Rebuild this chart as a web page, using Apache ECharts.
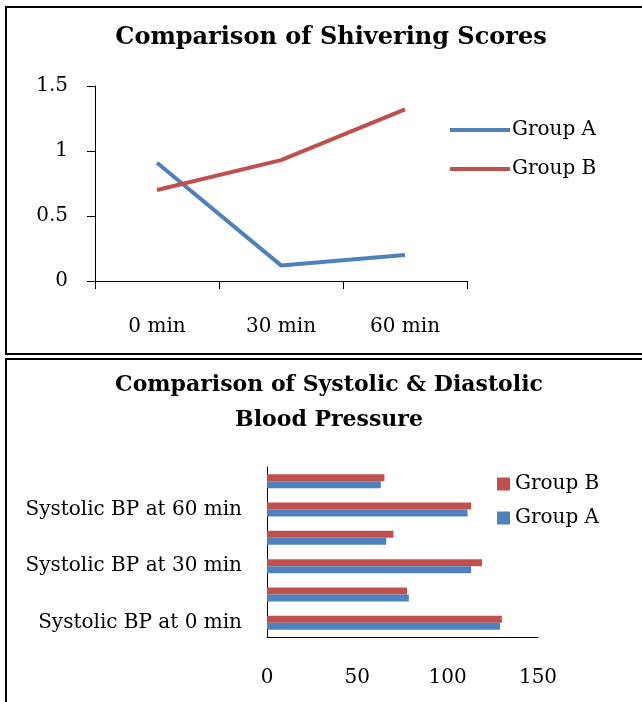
<!DOCTYPE html>
<html>
<head>
<meta charset="utf-8">
<script src="https://cdn.jsdelivr.net/npm/echarts@6/dist/echarts.min.js"></script>
<style>
html,body{margin:0;padding:0;background:#fff;}
#main{width:642px;height:702px;}
</style>
</head>
<body>
<div id="main"></div>
<script>
// Shivering scores (line chart)
var timeCategories = ['0 min', '30 min', '60 min'];
var shiverGroupA = [0.91, 0.12, 0.20];
var shiverGroupB = [0.70, 0.93, 1.32];

// Blood pressure (horizontal bar chart), bottom to top
var bpCategories = [
  'Systolic BP at 0 min', 'Diastolic BP at 0 min',
  'Systolic BP at 30 min', 'Diastolic BP at 30 min',
  'Systolic BP at 60 min', 'Diastolic BP at 60 min'
];
var bpGroupA = [129, 78.5, 113, 66, 111, 63];
var bpGroupB = [130, 77.5, 119, 70, 113, 65];

var FONT = 'DejaVu Serif';
var BLUE = '#4F81BD';
var RED = '#C0504D';

var chart = echarts.init(document.getElementById('main'), null, {renderer: 'canvas'});
chart.setOption({
  backgroundColor: '#fff',
  animation: false,
  textStyle: {fontFamily: FONT, color: '#000'},
  graphic: [
    {type: 'rect', shape: {x: 6, y: 7, width: 650, height: 347}, style: {fill: 'none', stroke: '#000', lineWidth: 2}},
    {type: 'rect', shape: {x: 6, y: 359, width: 650, height: 360}, style: {fill: 'none', stroke: '#000', lineWidth: 2}}
  ],
  title: [
    {text: 'Comparison of Shivering Scores', left: 326, top: 21, textAlign: 'center',
     textStyle: {fontFamily: FONT, fontWeight: 'bold', fontSize: 24, color: '#000'}},
    {text: 'Comparison of Systolic & Diastolic\nBlood Pressure', left: 324, top: 363, textAlign: 'center',
     textStyle: {fontFamily: FONT, fontWeight: 'bold', fontSize: 22, color: '#000', lineHeight: 35}}
  ],
  legend: [
    {data: ['Group A', 'Group B'], orient: 'vertical', left: 445, top: 115,
     icon: 'rect', itemWidth: 60, itemHeight: 4, itemGap: 19,
     textStyle: {fontFamily: FONT, fontSize: 20, color: '#000', padding: [0, 0, 0, -3]}},
    {data: ['Group B', 'Group A'], orient: 'vertical', left: 492, top: 469,
     icon: 'rect', itemWidth: 13, itemHeight: 13, itemGap: 14,
     textStyle: {fontFamily: FONT, fontSize: 20, color: '#000'}}
  ],
  grid: [
    {left: 95, top: 86, width: 372, height: 195},
    {left: 267, top: 467, width: 271, height: 170}
  ],
  xAxis: [
    {type: 'category', gridIndex: 0, data: timeCategories, boundaryGap: true,
     axisLine: {lineStyle: {color: '#000', width: 1}},
     axisTick: {show: true, length: 8, lineStyle: {color: '#000'}},
     axisLabel: {fontFamily: FONT, fontSize: 20, color: '#000', margin: 36}},
    {type: 'value', gridIndex: 1, min: 0, max: 150, interval: 50,
     axisLine: {show: true, lineStyle: {color: '#000', width: 1}},
     axisTick: {show: false}, splitLine: {show: false},
     axisLabel: {fontFamily: FONT, fontSize: 20, color: '#000', margin: 31}}
  ],
  yAxis: [
    {type: 'value', gridIndex: 0, min: 0, max: 1.5, interval: 0.5,
     axisLine: {show: true, lineStyle: {color: '#000', width: 1}},
     axisTick: {show: true, length: 8, lineStyle: {color: '#000'}},
     splitLine: {show: false},
     axisLabel: {fontFamily: FONT, fontSize: 20, color: '#000', margin: 27}},
    {type: 'category', gridIndex: 1, data: bpCategories,
     axisLine: {show: true, lineStyle: {color: '#000', width: 1}},
     axisTick: {show: false},
     axisLabel: {fontFamily: FONT, fontSize: 20, color: '#000', margin: 25, interval: 1}}
  ],
  series: [
    {name: 'Group A', type: 'line', xAxisIndex: 0, yAxisIndex: 0, data: shiverGroupA,
     showSymbol: false, symbol: 'none', lineStyle: {color: BLUE, width: 4}, itemStyle: {color: BLUE}},
    {name: 'Group B', type: 'line', xAxisIndex: 0, yAxisIndex: 0, data: shiverGroupB,
     showSymbol: false, symbol: 'none', lineStyle: {color: RED, width: 4}, itemStyle: {color: RED}},
    {name: 'Group B', type: 'bar', xAxisIndex: 1, yAxisIndex: 1, data: bpGroupB,
     barWidth: 7, barGap: '0%', itemStyle: {color: RED}},
    {name: 'Group A', type: 'bar', xAxisIndex: 1, yAxisIndex: 1, data: bpGroupA,
     barWidth: 7, barGap: '0%', itemStyle: {color: BLUE}}
  ]
});
</script>
</body>
</html>
